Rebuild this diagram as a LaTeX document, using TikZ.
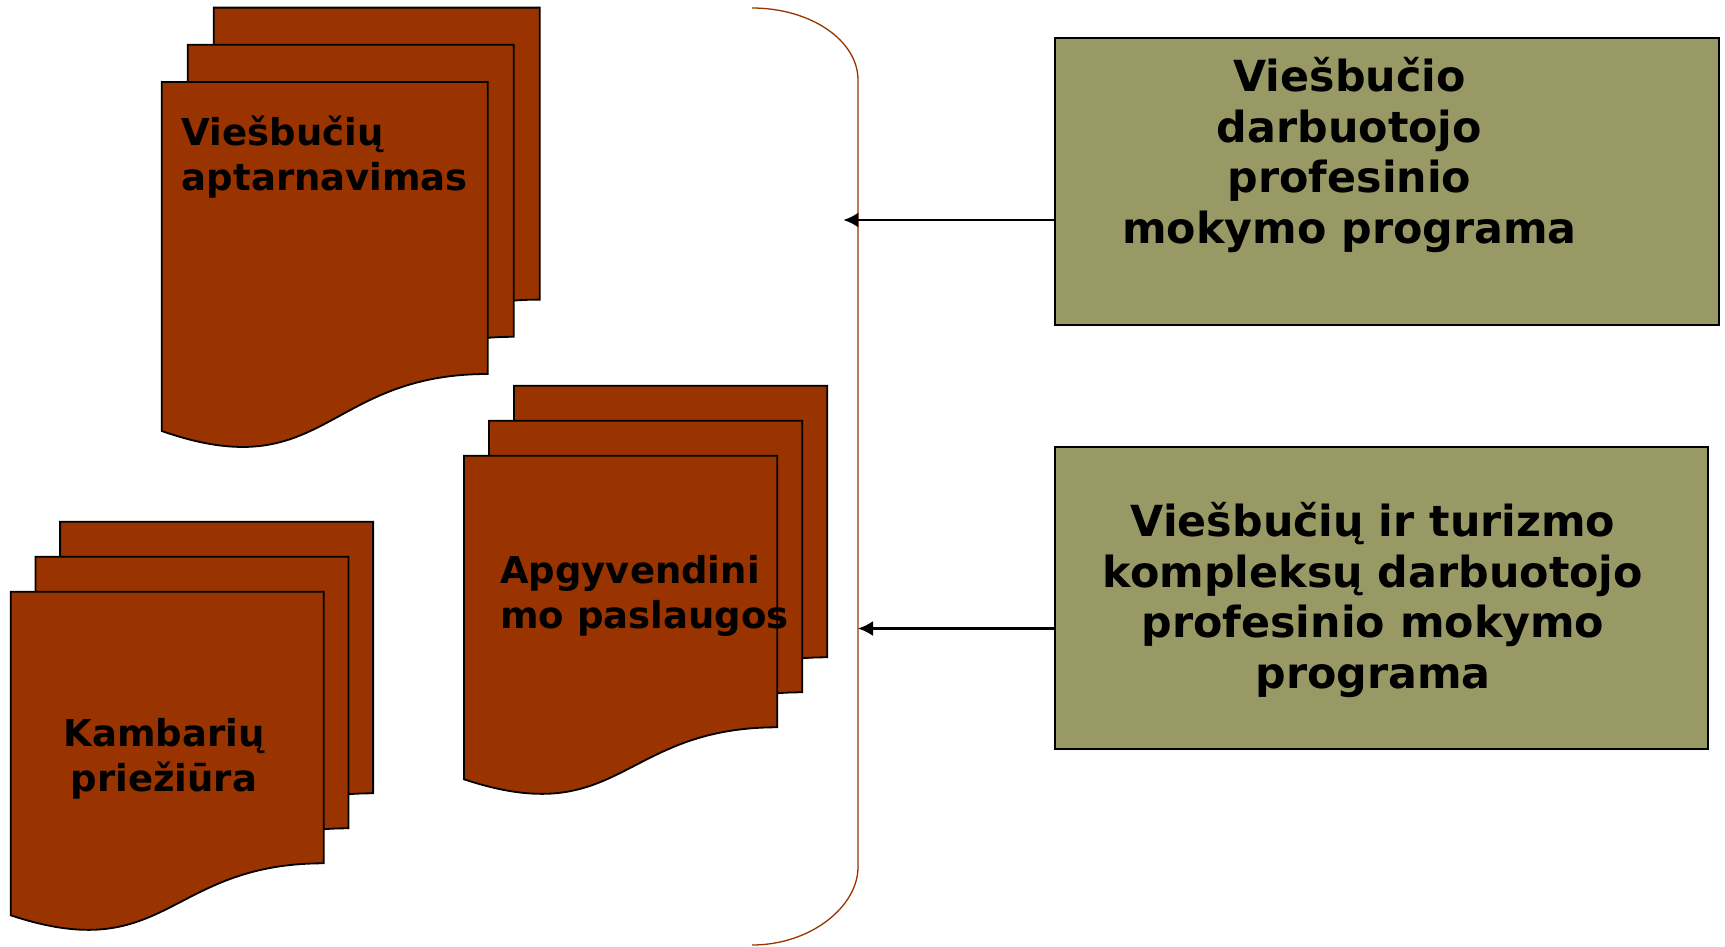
\documentclass[tikz,border=0pt]{standalone}
\usepackage{fontspec}
\setmainfont{DejaVu Sans}
\usetikzlibrary{arrows.meta}
\definecolor{sheetbrown}{RGB}{153,51,0}
\definecolor{progolive}{RGB}{153,153,102}

\begin{document}
\begin{tikzpicture}[x=1pt,y=-1pt,
    sheet/.style={fill=sheetbrown, draw=black, line width=1.8pt},
    sheettext/.style={font=\fontsize{37}{44.5}\selectfont\bfseries, inner sep=0pt, anchor=base west, align=left},
    progbox/.style={fill=progolive, draw=black, line width=2pt, inner sep=0pt},
    progtext/.style={font=\fontsize{42.8}{50.5}\selectfont\bfseries, inner sep=0pt, anchor=base, align=center},
    bracket/.style={draw=sheetbrown, line width=1.3pt},
    link/.style={line width=2.3pt, -{Latex[length=15pt,width=15pt]}}]
    \useasboundingbox (0,0) rectangle (1725,946);

    \foreach \gx/\gy/\gw/\gh/\gd/\ox/\oy in {161.7/82/326/292/57/26/37.2, 464/455.7/313.3/271.6/52/25/35, 10.7/591.7/313/271.6/52/24.7/35}
        \foreach \k in {2,1,0}
            \draw[sheet, shift={({\gx+\k*\ox},{\gy-\k*\oy})}] (0,0) -- (\gw,0) -- (\gw,\gh) .. controls ({\gw/2},\gh) and ({\gw/2},{\gh+2*\gd}) .. (0,{\gh+\gd}) -- cycle;

    \node[sheettext] (service) at (181.7,190) {Viešbučių\\aptarnavimas};
    \node[sheettext] (lodging) at (500,628.3) {Apgyvendini\\mo paslaugos};
    \node[sheettext, anchor=base, align=center] (rooms) at (164,791) {Kambarių\\priežiūra};

    \node[progbox, minimum width=664.5pt, minimum height=287pt] (prog1) at (1386.8,181.7) {};
    \node[progtext] (prog1 text) at (1349.5,243) {Viešbučio\\darbuotojo\\profesinio\\mokymo programa};
    \node[progbox, minimum width=653pt, minimum height=302.3pt] (prog2) at (1381,597.9) {};
    \node[progtext] (prog2 text) at (1373,688.2) {Viešbučių ir turizmo\\kompleksų darbuotojo\\profesinio mokymo\\programa};

    \coordinate (tip1) at (843.3,220);
    \coordinate (tip2) at (858,628.5);
    \draw[bracket] (752,8) .. controls (810.5,8) and (858,40.3) .. (858,80) -- (858,867) .. controls (858,906.7) and (810.5,945) .. (752,945);

    \draw[link] (prog1.west |- tip1) -- (tip1);
    \draw[link] (prog2.west |- tip2) -- (tip2);
\end{tikzpicture}
\end{document}
